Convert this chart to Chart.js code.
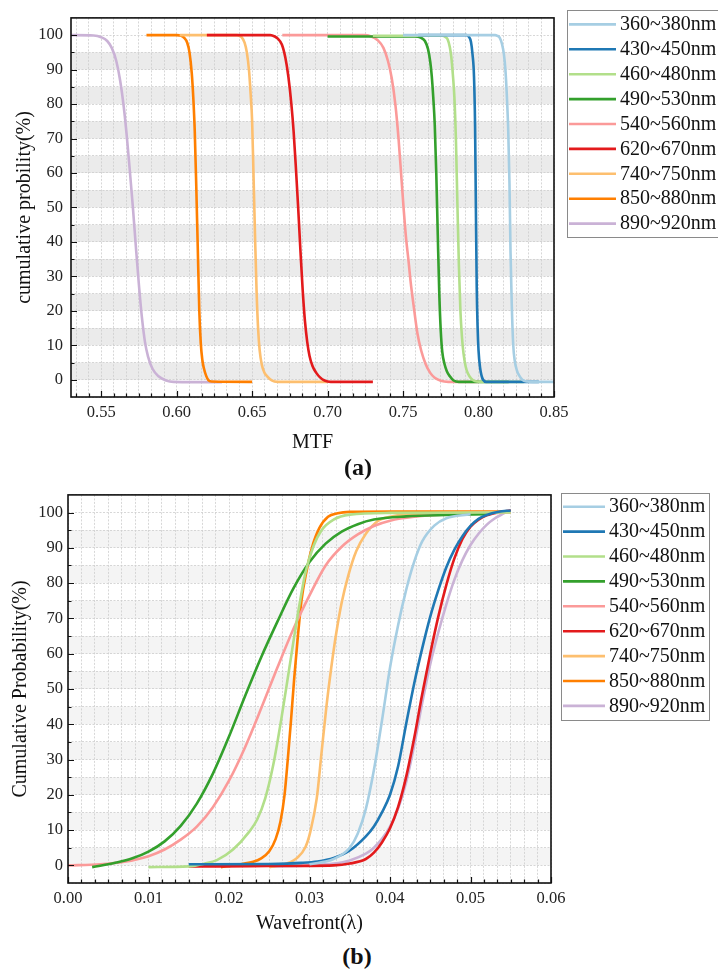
<!DOCTYPE html>
<html>
<head>
<meta charset="utf-8">
<script src="https://cdn.jsdelivr.net/npm/chart.js@4.4.1/dist/chart.umd.min.js"></script>
<style>
  html, body { margin: 0; padding: 0; background: #fff; }
  body { width: 718px; height: 970px; position: relative; overflow: hidden; }
  .box { position: absolute; left: 0; width: 718px; height: 460px; }
  #boxA { top: 0; }
  #boxB { top: 480px; }
  .cap { position: absolute; width: 100px; text-align: center; font: bold 24px "Liberation Serif", serif; line-height: 24px; color: #111; }
</style>
</head>
<body>
<div class="box" id="boxA"><canvas id="chartA"></canvas></div>
<div class="box" id="boxB"><canvas id="chartB"></canvas></div>
<div class="cap" style="left:308px;top:455px">(a)</div>
<div class="cap" style="left:307px;top:944px">(b)</div>
<script>
// ---- data ----
const bands = ['360~380nm', '430~450nm', '460~480nm', '490~530nm', '540~560nm',
               '620~670nm', '740~750nm', '850~880nm', '890~920nm'];
const colors = ['#a6cee3', '#1f78b4', '#b2df8a', '#33a02c', '#fb9a99',
                '#e31a1c', '#fdbf6f', '#ff7f00', '#cab2d6'];

const mtfTicks = [0.55, 0.60, 0.65, 0.70, 0.75, 0.80, 0.85];
const wfTicks = [0.00, 0.01, 0.02, 0.03, 0.04, 0.05, 0.06];
const probTicks = [0, 10, 20, 30, 40, 50, 60, 70, 80, 90, 100];

// (a) MTF  [MTF, cumulative %]
const mtf360 = [[0.750,100],[0.811,100],[0.8125,99.8],[0.814,99.3],[0.8155,97.5],[0.8168,94.5],[0.8178,90],[0.8188,82],[0.8197,72],[0.8205,57],[0.8212,37],[0.822,22],[0.823,10],[0.824,5.5],[0.8255,2.6],[0.827,1.2],[0.829,0],[0.832,-0.5],[0.836,-0.6],[0.850,-0.6]];
const mtf430 = [[0.760,100],[0.792,100],[0.7935,99.6],[0.795,98],[0.796,94.5],[0.797,88],[0.7977,74],[0.7982,52],[0.7988,27],[0.7994,15],[0.800,8.5],[0.801,3.6],[0.802,1.2],[0.803,0],[0.805,-0.6],[0.840,-0.6]];
const mtf460 = [[0.730,99.8],[0.776,99.8],[0.778,99.5],[0.7795,98.8],[0.781,96.5],[0.782,93.5],[0.783,88.5],[0.784,82],[0.785,70],[0.786,51],[0.787,33],[0.788,20],[0.789,12.5],[0.790,7.8],[0.7915,3.8],[0.793,1.8],[0.795,0.4],[0.7975,-0.4],[0.801,-0.6],[0.830,-0.6]];
const mtf490 = [[0.700,99.6],[0.758,99.6],[0.762,99.2],[0.7645,98.3],[0.7665,96],[0.768,92.3],[0.769,88.2],[0.770,82],[0.771,74],[0.772,60],[0.773,42],[0.774,25],[0.775,14],[0.776,8],[0.7775,4.5],[0.779,2.5],[0.781,1],[0.7835,-0.2],[0.787,-0.6],[0.820,-0.6]];
const mtf540 = [[0.670,100],[0.724,100],[0.729,99.6],[0.733,98.6],[0.737,96.3],[0.740,92.5],[0.7425,87.5],[0.745,79.5],[0.747,70],[0.749,58],[0.7505,49],[0.752,41],[0.7535,35],[0.755,28.5],[0.757,21.5],[0.7595,13.5],[0.762,8.5],[0.765,4.5],[0.768,2],[0.771,0.6],[0.775,-0.3],[0.780,-0.6],[0.800,-0.6]];
const mtf620 = [[0.620,100],[0.662,100],[0.665,99.6],[0.667,99],[0.6697,97.3],[0.672,93.5],[0.674,88],[0.676,80],[0.6775,72],[0.679,61.5],[0.6805,50],[0.682,37.5],[0.6835,26],[0.685,17],[0.6865,11],[0.688,7],[0.690,4],[0.6925,2],[0.695,0.7],[0.698,-0.2],[0.702,-0.6],[0.730,-0.6]];
const mtf740 = [[0.602,100],[0.640,100],[0.643,99.4],[0.645,97.8],[0.6465,95],[0.648,89.5],[0.649,83],[0.650,75],[0.651,58],[0.652,40.5],[0.653,25],[0.654,14.5],[0.655,8.5],[0.6565,4.2],[0.658,2.2],[0.660,1],[0.663,-0.2],[0.667,-0.6],[0.700,-0.6]];
const mtf850 = [[0.580,100],[0.600,100],[0.603,99.8],[0.605,99.2],[0.607,97.8],[0.6085,95],[0.610,89],[0.611,82],[0.612,72],[0.613,56],[0.614,38],[0.615,20],[0.616,10.5],[0.617,5.8],[0.618,3.4],[0.6195,1.2],[0.621,-0.1],[0.623,-0.5],[0.650,-0.6]];
const mtf890 = [[0.530,100],[0.545,99.9],[0.550,99.4],[0.554,98.3],[0.557,96.3],[0.560,92.5],[0.5625,87],[0.565,79],[0.567,70.5],[0.569,60.5],[0.571,50],[0.573,38.5],[0.575,27.5],[0.577,18],[0.579,11],[0.581,6.8],[0.584,3.2],[0.588,1.0],[0.593,-0.2],[0.598,-0.6],[0.630,-0.7]];

// (b) wavefront  [λ, cumulative %]
const wf360 = [[0.030,0.3],[0.033,1.8],[0.035,5],[0.036,9],[0.037,16],[0.038,27],[0.039,41],[0.040,56],[0.041,68],[0.042,78],[0.043,86],[0.044,91.8],[0.0455,96.3],[0.047,98.4],[0.050,99.5]];
const wf430 = [[0.015,0.3],[0.025,0.4],[0.029,0.7],[0.031,1.1],[0.033,2.1],[0.035,4.2],[0.037,8.2],[0.038,11],[0.039,15],[0.040,20],[0.041,28],[0.042,40],[0.043,51.5],[0.044,61.5],[0.045,70.5],[0.046,78],[0.047,84.5],[0.048,89.5],[0.049,93.3],[0.050,96.2],[0.051,98.2],[0.052,99.3],[0.0535,100.2],[0.055,100.6]];
const wf460 = [[0.010,-0.5],[0.015,-0.3],[0.017,0.5],[0.0185,1.5],[0.0205,4.5],[0.0225,9.5],[0.0235,13],[0.0245,19],[0.0255,28.5],[0.0265,41.5],[0.0275,56],[0.0285,70.5],[0.0295,83],[0.0305,90.5],[0.0315,95],[0.033,98],[0.035,99.4],[0.040,99.9],[0.055,100]];
const wf490 = [[0.003,-0.5],[0.006,0.8],[0.008,2.0],[0.010,3.9],[0.012,6.8],[0.014,11.2],[0.016,17.5],[0.018,26],[0.020,36.5],[0.022,48],[0.024,59],[0.026,69],[0.028,78.5],[0.030,86],[0.032,91.2],[0.034,94.6],[0.036,96.7],[0.038,98],[0.042,98.9],[0.047,99.3],[0.052,99.5]];
const wf540 = [[0.000,0],[0.004,0.3],[0.007,1.0],[0.010,2.6],[0.012,4.5],[0.014,7.3],[0.016,11],[0.018,16.5],[0.020,24],[0.022,33.5],[0.024,44.5],[0.026,56],[0.028,67],[0.030,76.5],[0.032,85],[0.034,90.3],[0.036,93.8],[0.038,96.2],[0.040,97.7],[0.043,98.8],[0.048,99.6],[0.055,100]];
const wf620 = [[0.015,-0.3],[0.019,-0.3],[0.025,-0.2],[0.033,0],[0.035,0.5],[0.037,1.8],[0.038,3.6],[0.039,6.5],[0.040,10.5],[0.041,16.5],[0.042,25],[0.043,36],[0.044,48.5],[0.045,60],[0.046,70.5],[0.047,79.5],[0.048,87],[0.049,92.5],[0.050,96],[0.051,98],[0.052,99.2],[0.0535,100.1],[0.055,100.6]];
const wf740 = [[0.025,-0.5],[0.027,0.4],[0.0285,2.2],[0.0295,5.2],[0.0301,9.5],[0.0309,19],[0.0315,32],[0.0321,45],[0.0327,56],[0.0333,65.5],[0.034,74.5],[0.0348,82],[0.0358,89],[0.037,94],[0.0385,97.6],[0.041,99.2],[0.045,99.8],[0.055,100]];
const wf850 = [[0.019,-0.5],[0.021,0.2],[0.023,1.0],[0.024,2.0],[0.025,4.0],[0.0258,7.5],[0.0264,12.5],[0.0269,20],[0.0273,30],[0.0277,41],[0.0281,53],[0.0285,63.5],[0.029,75],[0.0296,83],[0.0303,90],[0.0312,95.5],[0.0323,98.8],[0.0335,99.8],[0.035,100.2],[0.040,100.3],[0.055,100.3]];
const wf890 = [[0.025,-0.3],[0.030,0],[0.033,0.5],[0.035,1.4],[0.037,3.3],[0.038,5],[0.039,7.5],[0.040,11],[0.041,16],[0.042,23.5],[0.043,34],[0.044,46],[0.045,57],[0.046,66],[0.047,74],[0.048,81],[0.049,86.5],[0.050,90.8],[0.051,94],[0.052,96.5],[0.053,98.3],[0.054,99.6],[0.0549,100.6]];

const mtfCurves = [mtf360, mtf430, mtf460, mtf490, mtf540, mtf620, mtf740, mtf850, mtf890];
const wfCurves = [wf360, wf430, wf460, wf490, wf540, wf620, wf740, wf850, wf890];

// ---- helpers ----
const serif = '"Liberation Serif", "Times New Roman", serif';
const isMajor = (list, v) => list.some(m => Math.abs(m - v) < 1e-6);

function minorTicks(majors, parts, min, max) {
  const step = (majors[1] - majors[0]) / parts;
  const out = [];
  const k0 = Math.ceil((min - majors[0]) / step - 1e-6);
  const k1 = Math.floor((max - majors[0]) / step + 1e-6);
  for (let k = k0; k <= k1; k++) out.push({ value: +(majors[0] + k * step).toFixed(7) });
  return out;
}

// shaded bands, frame, inward ticks and boxed legend
const decor = {
  id: 'decor',
  beforeDraw(chart, args, o) {
    const { ctx, chartArea: a, scales: { y } } = chart;
    ctx.save();
    ctx.fillStyle = o.band;
    probTicks.slice(0, -1).forEach(v => {
      const t = y.getPixelForValue(v + 5), b = y.getPixelForValue(v);
      ctx.fillRect(a.left, t, a.right - a.left, b - t);
    });
    ctx.restore();
  },
  afterDraw(chart, args, o) {
    const { ctx, chartArea: a, scales: { x, y } } = chart;
    ctx.save();
    ctx.strokeStyle = '#111';
    ctx.lineWidth = 1.2;
    ctx.beginPath();
    x.ticks.forEach(t => {
      const px = Math.round(x.getPixelForValue(t.value)) + 0.5;
      const len = isMajor(o.xMajors, t.value) ? 6 : 3.5;
      ctx.moveTo(px, a.bottom); ctx.lineTo(px, a.bottom - len);
    });
    y.ticks.forEach(t => {
      if (t.value < 0 || t.value > 100) return;
      const py = Math.round(y.getPixelForValue(t.value)) + 0.5;
      const len = isMajor(probTicks, t.value) ? 6 : 3.5;
      ctx.moveTo(a.left, py); ctx.lineTo(a.left + len, py);
    });
    ctx.stroke();

    ctx.lineWidth = 1.6;
    ctx.strokeRect(a.left, a.top, a.right - a.left, a.bottom - a.top);

    const L = o.legend;
    ctx.strokeStyle = '#8a8a8a';
    ctx.lineWidth = 1;
    ctx.strokeRect(L.left + 0.5, L.top + 0.5, L.width, L.height);
    ctx.font = '20px ' + serif;
    ctx.textBaseline = 'middle';
    ctx.textAlign = 'left';
    chart.data.datasets.forEach((ds, i) => {
      const yy = L.first + i * L.step;
      ctx.strokeStyle = ds.borderColor;
      ctx.lineWidth = 2.6;
      ctx.beginPath();
      ctx.moveTo(L.left + 2, yy); ctx.lineTo(L.left + 2 + L.line, yy);
      ctx.stroke();
      ctx.fillStyle = '#111';
      ctx.fillText(ds.label, L.left + L.textGap, yy + 0.5);
    });
    ctx.restore();
  }
};

function makeDatasets(curves) {
  return curves.map((pts, i) => ({
    label: bands[i],
    data: pts.map(([x, y]) => ({ x, y })),
    borderColor: colors[i],
    backgroundColor: colors[i],
    borderWidth: 2.6,
    pointRadius: 0,
    cubicInterpolationMode: 'monotone',
    fill: false
  }));
}

function makeChart(id, cfg) {
  return new Chart(document.getElementById(id), {
    type: 'line',
    data: { datasets: makeDatasets(cfg.curves) },
    plugins: [decor],
    options: {
      responsive: true,
      maintainAspectRatio: false,
      animation: false,
      layout: { padding: cfg.padding },
      plugins: {
        legend: { display: false },
        tooltip: { enabled: false },
        decor: { band: cfg.band, xMajors: cfg.xMajors, legend: cfg.legend }
      },
      scales: {
        x: {
          type: 'linear',
          min: cfg.xMin, max: cfg.xMax,
          afterBuildTicks: s => { s.ticks = minorTicks(cfg.xMajors, 6, cfg.xMin, cfg.xMax); },
          afterFit: s => { s.height = cfg.xHeight; },
          grid: { color: '#cdcdcd', lineWidth: 0.8, drawTicks: false },
          border: { display: false, dash: [2, 1.5] },
          ticks: {
            autoSkip: false, maxRotation: 0, padding: 6, color: '#222',
            font: { family: serif, size: 16.5 },
            callback: v => isMajor(cfg.xMajors, v) ? v.toFixed(2) : ''
          },
          title: {
            display: true, text: cfg.xTitle, color: '#111',
            font: { family: serif, size: 20 },
            padding: { top: 0, bottom: cfg.xTitlePad }
          }
        },
        y: {
          min: -5, max: 105,
          afterBuildTicks: s => { s.ticks = minorTicks(probTicks, 2, -5, 105); },
          afterFit: s => { s.width = cfg.yWidth; },
          grid: { color: '#cdcdcd', lineWidth: 0.8, drawTicks: false },
          border: { display: false, dash: [2, 1.5] },
          ticks: {
            autoSkip: false, padding: cfg.yTickPad, color: '#222',
            font: { family: serif, size: 16.5 },
            callback: v => (v >= 0 && v <= 100 && isMajor(probTicks, v)) ? String(v) : ''
          },
          title: {
            display: true, text: cfg.yTitle, color: '#111',
            font: { family: serif, size: 20 },
            padding: { top: cfg.yTitlePad, bottom: 0 }
          }
        }
      }
    }
  });
}

makeChart('chartA', {
  curves: mtfCurves,
  xMin: 0.53, xMax: 0.85, xMajors: mtfTicks,
  xTitle: 'MTF', yTitle: 'cumulative probility(%)',
  padding: { left: 0, top: 8, right: 164, bottom: 0 },
  xHeight: 63, yWidth: 71, xTitlePad: 5, yTitlePad: 13, yTickPad: 8,
  band: '#ebebeb',
  legend: { left: 567, top: 10, width: 160, height: 227, first: 24.4, step: 24.9, line: 47, textGap: 53 }
});

makeChart('chartB', {
  curves: wfCurves,
  xMin: 0, xMax: 0.06, xMajors: wfTicks,
  xTitle: 'Wavefront(λ)', yTitle: 'Cumulative Probability(%)',
  padding: { left: 0, top: 13, right: 167, bottom: 0 },
  xHeight: 57, yWidth: 68, xTitlePad: 4, yTitlePad: 9, yTickPad: 5,
  band: '#f4f4f4',
  legend: { left: 561, top: 13, width: 148, height: 227, first: 26.7, step: 24.9, line: 42, textGap: 48 }
});
</script>
</body>
</html>
